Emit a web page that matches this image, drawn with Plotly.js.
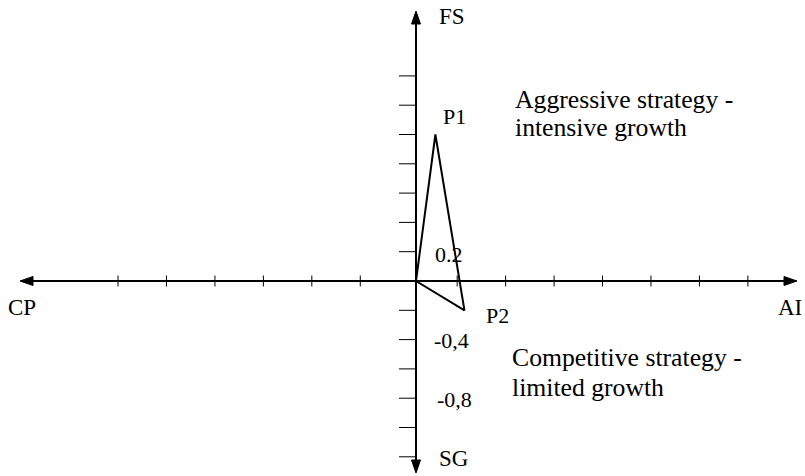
<!DOCTYPE html>
<html>
<head>
<meta charset="utf-8">
<script src="https://cdn.plot.ly/plotly-3.0.1.min.js"></script>
<style>html,body{margin:0;padding:0;background:#fff;}#chart{width:805px;height:476px;}</style>
</head>
<body>
<div id="chart"></div>
<script>
// ---- data ----
const pointNames = ['P1', 'P2'];
const pointAI = [0.08, 0.2];     // horizontal (CP <-> AI)
const pointFS = [1.0, -0.2];     // vertical (SG <-> FS)
const axisNames = ['FS', 'SG', 'CP', 'AI'];
const xTickVals = [-1.23, -1.03, -0.83, -0.63, -0.43, -0.23, 0.17, 0.37, 0.57, 0.77, 0.97, 1.17, 1.37];
const yTickVals = [1.4, 1.2, 1.0, 0.8, 0.6, 0.4, 0.2, -0.2, -0.4, -0.6, -0.8, -1.0, -1.2];
const valueLabelVals = [0.2, -0.4, -0.8];
const valueLabelTexts = ['0.2', '-0,4', '-0,8'];
const aggressiveLines = ['Aggressive strategy -', 'intensive growth'];
const competitiveLines = ['Competitive strategy -', 'limited growth'];

// ---- geometry (layout) ----
const W = 805, H = 476;
const X0 = 416, Y0 = 281;          // origin in px
const PXX = 242.25, PXY = 146.5;   // px per unit
const xr = [-X0 / PXX, (W - X0) / PXX];
const yr = [-(H - Y0) / PXY, Y0 / PXY];
const xd = px => (px - X0) / PXX;
const yd = py => (Y0 - py) / PXY;

const shapes = [];
const black = '#000';
// axes lines
shapes.push({type:'line', xref:'x', yref:'y', x0:xd(30), x1:xd(787), y0:0, y1:0, line:{color:black, width:2}});
shapes.push({type:'line', xref:'x', yref:'y', x0:0, x1:0, y0:yd(22), y1:yd(462), line:{color:black, width:2}});
// arrowheads
function tri(pts){
  return {type:'path', xref:'x', yref:'y', fillcolor:black, line:{color:black, width:1},
    path:'M' + pts.map(p => xd(p[0]) + ',' + yd(p[1])).join(' L') + ' Z'};
}
shapes.push(tri([[20, Y0], [33, Y0 - 4.5], [33, Y0 + 4.5]]));
shapes.push(tri([[797, Y0], [784, Y0 - 4.5], [784, Y0 + 4.5]]));
shapes.push(tri([[X0, 11], [X0 - 4.5, 24], [X0 + 4.5, 24]]));
shapes.push(tri([[X0, 473], [X0 - 4.5, 460], [X0 + 4.5, 460]]));
// ticks
xTickVals.forEach(v => shapes.push({type:'line', xref:'x', yref:'y', x0:v, x1:v, y0:yd(275.5), y1:yd(286.5), line:{color:black, width:1}}));
yTickVals.forEach(v => shapes.push({type:'line', xref:'x', yref:'y', x0:xd(399), x1:0, y0:v, y1:v, line:{color:black, width:1}}));

const FAM = 'Liberation Serif';
const fLabel = {family:FAM, size:22, color:black};
const fAxis = {family:FAM, size:23, color:black};
const fQuad = {family:FAM, size:25.7, color:black};
function ann(text, pxLeft, pyCenter, font){
  return {text:text, xref:'paper', yref:'paper', x:pxLeft / W, y:1 - pyCenter / H,
    xanchor:'left', yanchor:'middle', showarrow:false, align:'left', font:font};
}
const annotations = [
  ann(axisNames[0], 437, 17, fAxis),
  ann(axisNames[1], 437, 458, fAxis),
  ann(axisNames[2], 6, 307, fAxis),
  ann(axisNames[3], 776, 307, fAxis),
  ann(pointNames[0], 441, 116, fLabel),
  ann(pointNames[1], 484, 315, fLabel),
  ann(aggressiveLines[0], 513, 99, fQuad),
  ann(aggressiveLines[1], 513, 128, fQuad),
  ann(competitiveLines[0], 510, 357, fQuad),
  ann(competitiveLines[1], 510, 387, fQuad)
];
const labelX = [433, 432, 435];
valueLabelVals.forEach((v, i) => annotations.push({text:valueLabelTexts[i], xref:'paper', yref:'y',
  x:labelX[i] / W, y:v, yshift:(i === 0 ? -3 : -1), xanchor:'left', yanchor:'middle', showarrow:false, font:fLabel}));

const trace = {
  x: [0, pointAI[0], pointAI[1], 0],
  y: [0, pointFS[0], pointFS[1], 0],
  mode: 'lines', line: {color: black, width: 2}, hoverinfo: 'skip', showlegend: false
};

Plotly.newPlot('chart', [trace], {
  width: W, height: H, margin: {l:0, r:0, t:0, b:0},
  paper_bgcolor: '#fff', plot_bgcolor: '#fff', showlegend: false,
  font: fLabel,
  xaxis: {range: xr, visible: false, fixedrange: true},
  yaxis: {range: yr, visible: false, fixedrange: true},
  shapes: shapes, annotations: annotations
}, {staticPlot: true});
</script>
</body>
</html>
